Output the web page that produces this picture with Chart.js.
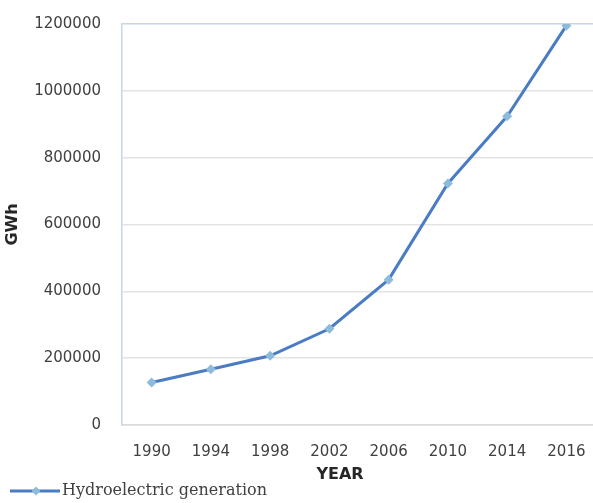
<!DOCTYPE html>
<html>
<head>
<meta charset="utf-8">
<script src="https://cdn.jsdelivr.net/npm/chart.js@4/dist/chart.umd.min.js"></script>
<style>
html,body{margin:0;padding:0;background:#fff;overflow:hidden;}
#wrap{width:593px;height:503px;position:relative;overflow:hidden;}
canvas{display:block;}
</style>
</head>
<body>
<div id="wrap"><canvas id="c" width="601" height="503"></canvas></div>
<script>
const years = ["1990","1994","1998","2002","2006","2010","2014","2016"];
const hydroGWh = [127000, 167000, 207000, 288000, 435000, 723000, 924000, 1195000];
const seriesName = "Hydroelectric generation";
const yTitle = "GWh";
const xTitle = "YEAR";

const LINE = "#4a7cc4";
const MARK = "#8dbbdb";

const extras = {
  id: "extras",
  afterDraw(chart) {
    const ctx = chart.ctx;
    ctx.save();
    // x axis title
    ctx.font = "bold 16px 'DejaVu Sans'";
    ctx.fillStyle = "#262626";
    ctx.textAlign = "center";
    ctx.textBaseline = "middle";
    ctx.fillText(xTitle, 340, 475);
    // legend
    ctx.strokeStyle = LINE;
    ctx.lineWidth = 3;
    ctx.beginPath();
    ctx.moveTo(10, 491);
    ctx.lineTo(60, 491);
    ctx.stroke();
    ctx.fillStyle = MARK;
    ctx.beginPath();
    ctx.moveTo(36, 486.5); ctx.lineTo(40.5, 491); ctx.lineTo(36, 495.5); ctx.lineTo(31.5, 491); ctx.closePath();
    ctx.fill();
    ctx.font = "16px 'DejaVu Serif'";
    ctx.fillStyle = "#404040";
    ctx.textAlign = "left";
    ctx.fillText(chart.data.datasets[0].label, 62, 491);
    ctx.restore();
  }
};

new Chart(document.getElementById("c"), {
  type: "line",
  data: {
    labels: years,
    datasets: [{
      label: seriesName,
      data: hydroGWh,
      borderColor: LINE,
      borderWidth: 3,
      backgroundColor: MARK,
      pointBackgroundColor: MARK,
      pointBorderWidth: 0,
      pointStyle: "rectRot",
      pointRadius: 5,
      tension: 0,
      fill: false
    }]
  },
  options: {
    responsive: false,
    animation: false,
    devicePixelRatio: 1,
    layout: { padding: { top: 24, right: 0, bottom: 0, left: 0 } },
    plugins: { legend: { display: false }, tooltip: { enabled: false } },
    scales: {
      x: {
        offset: true,
        grid: { display: true, drawOnChartArea: false, drawTicks: true, tickLength: 18, color: "rgba(0,0,0,0)" },
        border: { display: true, color: "#d9d9d9", width: 1.5 },
        ticks: { padding: 0, color: "#404040", font: { family: "DejaVu Sans", size: 15 }, maxRotation: 0, autoSkip: false },
        afterFit(s) { s.height = 78; }
      },
      y: {
        min: 0, max: 1200000,
        ticks: { stepSize: 200000, padding: 0, color: "#404040", font: { family: "DejaVu Sans", size: 15 }, callback: (v) => String(v) },
        grid: {
          drawTicks: true,
          tickLength: 21,
          tickColor: "rgba(0,0,0,0)",
          lineWidth: 1.5,
          color: (c) => (c.tick && c.tick.value === 1200000) ? "#c5d4ea" : "#e3e3e3"
        },
        border: { display: true, color: "#c5d4ea", width: 1.5 },
        title: { display: true, text: yTitle, color: "#262626", font: { family: "DejaVu Sans", size: 16, weight: "bold" }, padding: { top: 3, bottom: 0 } },
        afterFit(s) { s.width = 122; }
      }
    }
  },
  plugins: [extras]
});
</script>
</body>
</html>
